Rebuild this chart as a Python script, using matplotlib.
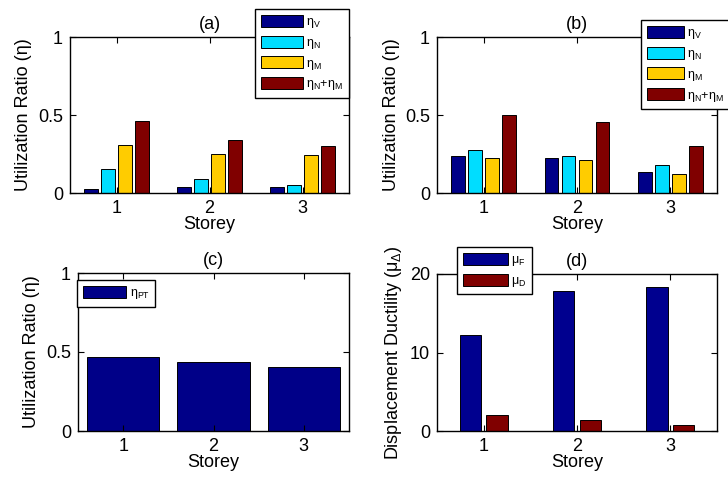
import matplotlib
matplotlib.use('Agg')
import matplotlib.pyplot as plt
import numpy as np

plt.rcParams['font.family'] = ['Liberation Sans', 'DejaVu Sans']
plt.rcParams['mathtext.fontset'] = 'custom'
plt.rcParams['mathtext.rm'] = 'Liberation Sans'
plt.rcParams['mathtext.it'] = 'Liberation Sans'

storeys = [1, 2, 3]
tickLabels = ['1', '2', '3']

# (a)
aEtaV = [0.026, 0.038, 0.038]
aEtaN = [0.154, 0.090, 0.051]
aEtaM = [0.308, 0.250, 0.246]
aEtaNM = [0.462, 0.342, 0.300]
# (b)
bEtaV = [0.237, 0.222, 0.137]
bEtaN = [0.276, 0.237, 0.177]
bEtaM = [0.222, 0.214, 0.122]
bEtaNM = [0.500, 0.455, 0.300]
# (c)
cEtaPT = [0.470, 0.438, 0.404]
# (d)
dMuF = [12.2, 17.87, 18.34]
dMuD = [2.09, 1.36, 0.81]

etaLabels = ['η$_\\mathrm{V}$', 'η$_\\mathrm{N}$', 'η$_\\mathrm{M}$', 'η$_\\mathrm{N}$+η$_\\mathrm{M}$']
colors4 = ['#000088', '#00DDFF', '#FFCC00', '#800000']
colors2 = ['#00008F', '#800000']

W, H = 728., 482.
fig = plt.figure(figsize=(W/100, H/100), dpi=100)

def makeAxes(left, right, top, bottom):
  return fig.add_axes([left/W, (H-bottom)/H, (right-left)/W, (bottom-top)/H])

def styleAxes(ax, ylim, yticks, yticklabels, ylabel, title):
  ax.set_xlim(0.5, 3.5)
  ax.set_ylim(*ylim)
  ax.set_xticks(storeys)
  ax.set_xticklabels(tickLabels)
  ax.set_yticks(yticks)
  ax.set_yticklabels(yticklabels)
  ax.tick_params(direction='in', top=True, right=True, length=4, width=0.8, labelsize=13, pad=5)
  for s in ax.spines.values():
    s.set_linewidth(1.0)
  ax.set_xlabel('Storey', fontsize=13, labelpad=-1)
  ax.set_ylabel(ylabel, fontsize=13, labelpad=4)
  ax.set_title(title, fontsize=13, pad=6)

def groupedBars(ax, series, colors, labels):
  n = len(series)
  groupWidth = min(0.8, n/(n+1.5))
  step = groupWidth/n
  x = np.array(storeys, dtype=float)
  for i, vals in enumerate(series):
    off = (i - (n-1)/2.)*step
    ax.bar(x+off, vals, width=step*0.8, color=colors[i], edgecolor='black', linewidth=0.7, label=labels[i])

def placeLegend(ax, x0, y0, handlelength=3.4, **kw):
  leg = ax.legend(loc='upper left', bbox_to_anchor=(x0/W, 1-y0/H), bbox_transform=fig.transFigure,
                  borderaxespad=0, fancybox=False, framealpha=1, edgecolor='black',
                  fontsize=9, handlelength=handlelength, handleheight=1.1, labelspacing=0.45,
                  handletextpad=0.25, borderpad=0.45, **kw)
  leg.get_frame().set_linewidth(1.0)
  return leg

axA = makeAxes(70, 349, 37, 193)
groupedBars(axA, [aEtaV, aEtaN, aEtaM, aEtaNM], colors4, etaLabels)
styleAxes(axA, (0, 1), [0, 0.5, 1], ['0', '0.5', '1'], 'Utilization Ratio (η)', '(a)')
placeLegend(axA, 255, 9)

axB = makeAxes(437, 717, 37, 193)
groupedBars(axB, [bEtaV, bEtaN, bEtaM, bEtaNM], colors4, etaLabels)
styleAxes(axB, (0, 1), [0, 0.5, 1], ['0', '0.5', '1'], 'Utilization Ratio (η)', '(b)')
placeLegend(axB, 641, 20, handlelength=3.0)

axC = makeAxes(78, 349, 273, 431)
axC.bar(storeys, cEtaPT, width=0.8, color='#000088', edgecolor='black', linewidth=0.7, label='η$_\\mathrm{PT}$')
styleAxes(axC, (0, 1), [0, 0.5, 1], ['0', '0.5', '1'], 'Utilization Ratio (η)', '(c)')
placeLegend(axC, 77, 280, handlelength=3.5)

axD = makeAxes(437, 717, 274, 431)
groupedBars(axD, [dMuF, dMuD], colors2, ['μ$_\\mathrm{F}$', 'μ$_\\mathrm{D}$'])
styleAxes(axD, (0, 20), [0, 10, 20], ['0', '10', '20'], 'Displacement Ductility (μ$_Δ$)', '(d)')
placeLegend(axD, 457, 247, handlelength=3.6)

fig.savefig('out.png', dpi=100)
plt.close('all')
